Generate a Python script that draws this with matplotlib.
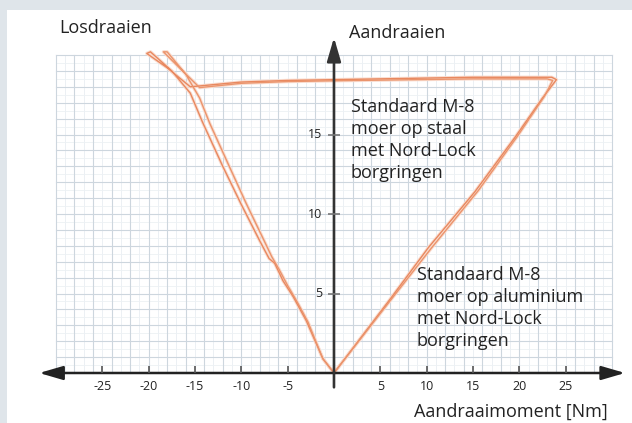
import numpy as np
import matplotlib.pyplot as plt

plt.rcParams['font.family'] = ['Open Sans', 'DejaVu Sans']

# staal trace (torque Nm, clamp)
staal_x = [0, 3, 6, 10.2, 15.2, 19.5, 22.5, 24.0, 23.5, 15, 5, 0, -5, -10, -15.5,
           -18.0, -20.2, -19.8, -17.5, -15.5, -14.2, -12.0, -10.0, -8.0, -7.0,
           -6.4, -5.5, -4.4, -3.0, -1.2, 0]
staal_y = [0, 2.3, 4.6, 7.9, 11.4, 14.8, 17.3, 18.45, 18.6, 18.6, 18.5, 18.45, 18.4,
           18.3, 18.0, 19.2, 20.1, 20.2, 19.0, 17.6, 15.8, 13.0, 10.6, 8.3, 7.2,
           6.9, 5.8, 4.8, 3.3, 0.9, 0]

# aluminium trace
alu_x = [0, 3, 6, 10.5, 15.6, 19.8, 22.7, 23.6, 23.0, 15, 5, 0, -5, -10, -14.5,
         -16.5, -18.4, -18.0, -16.0, -14.5, -13.4, -11.3, -9.5, -7.6, -6.7,
         -6.0, -5.0, -4.0, -2.8, -1.2, 0]
alu_y = [0, 2.25, 4.5, 7.85, 11.5, 14.9, 17.4, 18.4, 18.5, 18.5, 18.42, 18.38, 18.33,
         18.22, 17.95, 19.1, 20.2, 20.2, 18.8, 17.3, 15.7, 13.0, 10.7, 8.4, 7.3,
         6.6, 5.5, 4.5, 3.2, 0.9, 0]

x_ticks = [-25, -20, -15, -10, -5, 5, 10, 15, 20, 25]
y_ticks = [5, 10, 15]

staal_text = ["Standaard M-8", "moer op staal", "met Nord-Lock", "borgringen"]
alu_text = ["Standaard M-8", "moer op aluminium", "met Nord-Lock", "borgringen"]

fig = plt.figure(figsize=(6.32, 4.23), dpi=100)
fig.patch.set_facecolor('#dfe5ea')
ax = fig.add_axes([0, 0, 1, 1])
ax.set_xlim(-36.03, 32.15)
ax.set_ylim(-3.145, 23.46)
ax.axis('off')

# white panel
ax.add_patch(plt.Rectangle((0.011, 0), 1, 0.976, transform=fig.transFigure,
                           facecolor='white', edgecolor='none', zorder=0))

# graph paper grid
for gx in np.arange(-29, 30, 2):
    ax.plot([gx, gx], [0, 20], color='#e9eef2', lw=0.6, zorder=1)
for gy in np.arange(0.5, 20, 1):
    ax.plot([-30, 30], [gy, gy], color='#edf1f4', lw=0.6, zorder=1)
for gx in np.arange(-30, 31, 2):
    ax.plot([gx, gx], [0, 20], color='#cdd6de', lw=0.8, zorder=1)
for gy in np.arange(1, 21, 1):
    ax.plot([-30, 30], [gy, gy], color='#cdd6de', lw=0.8, zorder=1)

# curves, with a soft halo like the scanned original
ax.plot(staal_x, staal_y, color='#f9dccf', lw=2.4, zorder=2)
ax.plot(alu_x, alu_y, color='#f9dccf', lw=2.4, zorder=2)
ax.plot(staal_x, staal_y, color='#e8885f', lw=1.0, zorder=3)
ax.plot(alu_x, alu_y, color='#eb946c', lw=1.0, zorder=3)

# axes with arrows
ax.annotate('', xy=(31.4, 0), xytext=(-31.8, 0),
            arrowprops=dict(arrowstyle='<|-|>,head_length=1.2,head_width=0.35',
                            mutation_scale=12, color='#222222', lw=1.8,
                            shrinkA=0, shrinkB=0), zorder=4)
ax.annotate('', xy=(0, 21.1), xytext=(0, -0.9),
            arrowprops=dict(arrowstyle='-|>,head_length=1.2,head_width=0.35',
                            mutation_scale=12, color='#333333', lw=1.9,
                            shrinkA=0, shrinkB=0), zorder=4)

# tick marks and labels
ax.plot(x_ticks, [0] * len(x_ticks), linestyle='none', marker=2, markersize=5,
        color='#555555', mew=1.2, zorder=4)
ax.plot([0] * len(y_ticks), y_ticks, linestyle='none', marker='_', markersize=8,
        color='#777777', mew=1.2, zorder=4)
for t in x_ticks:
    ax.text(t, -0.82, str(t), ha='center', va='center', fontsize=9, color='#222222')
for t in y_ticks:
    ax.text(-1.3, t, str(t), ha='right', va='center', fontsize=9, color='#222222')

# labels
ax.text(-29.6, 21.4, "Losdraaien", fontsize=13, ha='left', va='baseline', color='#222222')
ax.text(1.6, 21.1, "Aandraaien", fontsize=13, ha='left', va='baseline', color='#222222')
ax.text(29.56, -2.77, "Aandraaimoment [Nm]", fontsize=13, ha='right', va='baseline',
        color='#222222')
for i, line in enumerate(staal_text):
    ax.text(1.8, 16.42 - i * 1.39, line, fontsize=13, ha='left', va='baseline',
            color='#222222', zorder=5)
for i, line in enumerate(alu_text):
    ax.text(8.95, 5.85 - i * 1.39, line, fontsize=13, ha='left', va='baseline',
            color='#222222', zorder=5)

plt.savefig('out.png', dpi=100, facecolor=fig.get_facecolor())
